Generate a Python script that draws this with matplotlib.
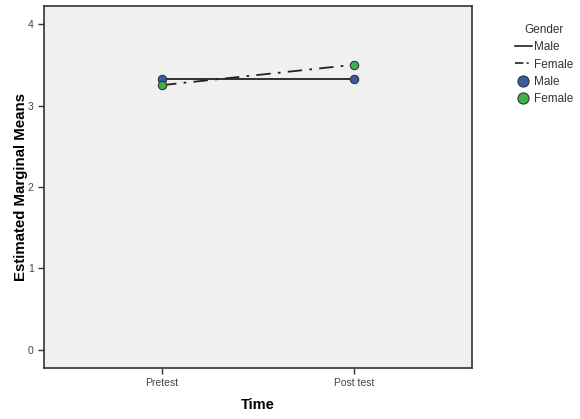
import matplotlib.pyplot as plt
from matplotlib.lines import Line2D

plt.rcParams['font.family'] = ['Liberation Sans', 'DejaVu Sans']

# 数据
time_labels = ['Pretest', 'Post test']
male_means = [3.33, 3.33]
female_means = [3.25, 3.50]
y_ticks = [0, 1, 2, 3, 4]

blue = '#3d5aa8'
green = '#3bb54a'

fig = plt.figure(figsize=(5.8, 4.19), dpi=100)
ax = fig.add_axes([0.0759, 0.1217, 0.8138 - 0.0759, 0.9857 - 0.1217])
ax.set_facecolor('#f0f0f0')

x = list(range(len(time_labels)))
ax.plot(x, male_means, color='#222222', lw=1.3, ls='-', zorder=2)
ax.plot(x, female_means, color='#222222', lw=1.3, ls=(0, (8, 4, 1.5, 4)), zorder=2)
ax.scatter(x, male_means, s=36, color=blue, edgecolor='#333333', lw=0.8, zorder=3)
ax.scatter(x, female_means, s=36, color=green, edgecolor='#333333', lw=0.8, zorder=3)

ax.set_xlim(-0.615, 1.615)
ax.set_ylim(-0.221, 4.221)
ax.set_xticks(x)
ax.set_xticklabels(time_labels)
ax.set_yticks(y_ticks)
ax.tick_params(axis='both', labelsize=7.5, colors='#333333', labelcolor='#444444',
               length=4, width=1)
for sp in ax.spines.values():
    sp.set_color('#333333')
    sp.set_linewidth(1.2)

ax.set_xlabel('Time', fontsize=10.5, fontweight='bold', labelpad=7)
ax.set_ylabel('Estimated Marginal Means', fontsize=10.8, fontweight='bold', labelpad=0)

handles = [
    Line2D([], [], color='#222222', lw=1.2, ls='-'),
    Line2D([], [], color='#222222', lw=1.2, ls=(0, (5, 2, 1.2, 2))),
    Line2D([], [], marker='o', ls='none', markersize=8, markerfacecolor=blue,
           markeredgecolor='#333333', markeredgewidth=0.8),
    Line2D([], [], marker='o', ls='none', markersize=8, markerfacecolor=green,
           markeredgecolor='#333333', markeredgewidth=0.8),
]
labels = ['Male', 'Female', 'Male', 'Female']
leg = fig.legend(handles, labels, title='Gender', loc='upper left',
                 bbox_to_anchor=(0.878, 0.957), frameon=False, fontsize=8.5,
                 title_fontsize=8.5, handlelength=1.4, handletextpad=0.2,
                 labelspacing=0.45, borderpad=0)
for t in leg.get_texts():
    t.set_color('#333333')
leg.get_title().set_color('#333333')

fig.savefig('out.png', dpi=100)
